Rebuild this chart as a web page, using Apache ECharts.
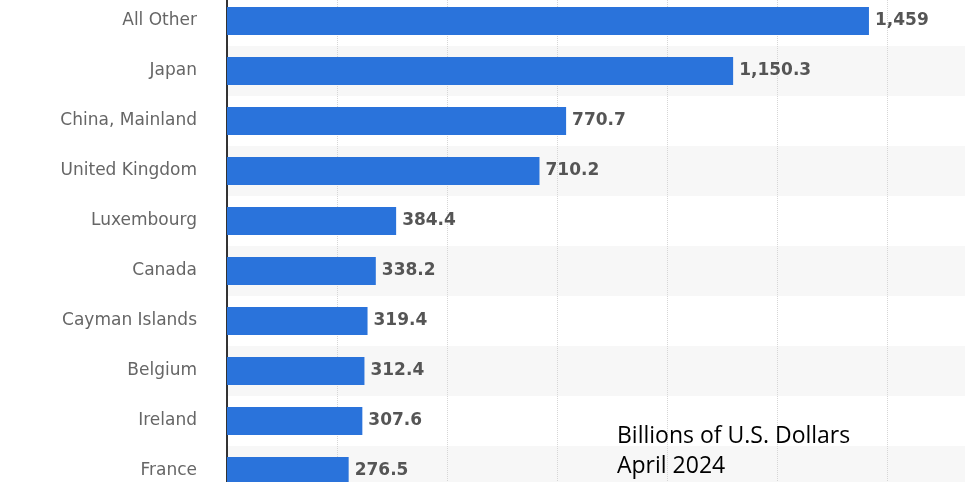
<!DOCTYPE html>
<html>
<head>
<meta charset="utf-8">
<script src="https://cdn.jsdelivr.net/npm/echarts@6/dist/echarts.min.js"></script>
<style>html,body{margin:0;padding:0;background:#fff}#c{width:965px;height:482px}</style>
</head>
<body>
<div id="c"></div>
<script>
const categories = ["All Other","Japan","China, Mainland","United Kingdom","Luxembourg","Canada","Cayman Islands","Belgium","Ireland","France"];
const values = [1459,1150.3,770.7,710.2,384.4,338.2,319.4,312.4,307.6,276.5];
const valueLabels = ["1,459","1,150.3","770.7","710.2","384.4","338.2","319.4","312.4","307.6","276.5"];
const captionLines = ["Billions of U.S. Dollars","April 2024"];

const chart = echarts.init(document.getElementById('c'));
chart.setOption({
  animation:false,
  backgroundColor:'#ffffff',
  grid:{left:227, top:-4, width:770, height:500, containLabel:false, outerBoundsMode:'none'},
  xAxis:{type:'value', min:0, max:1750, interval:250,
    axisLabel:{show:false}, axisLine:{show:false}, axisTick:{show:false},
    splitLine:{show:true, lineStyle:{color:'#d6d6d6', type:'dotted', width:1}}},
  yAxis:{type:'category', data:categories, inverse:true,
    axisTick:{show:false},
    axisLine:{show:true, lineStyle:{color:'#333', width:2}},
    axisLabel:{color:'#666', fontFamily:'DejaVu Sans', fontSize:17, margin:30, padding:[4,0,0,0]},
    splitArea:{show:true, areaStyle:{color:['#ffffff','#f7f7f7']}}},
  series:[{type:'bar', data:values, barWidth:28,
    itemStyle:{color:'#2a73db'},
    label:{show:true, position:'right', distance:6, color:'#555', fontFamily:'DejaVu Sans', fontWeight:'bold', fontSize:17,
      padding:[4,0,0,0], formatter:p=>valueLabels[p.dataIndex]}}],
  graphic:[{type:'text', left:617, top:421, z:100, style:{text:captionLines.join('\n'), fill:'#000', fontSize:23, fontFamily:'Open Sans', lineHeight:30}}]
});
</script>
</body>
</html>
